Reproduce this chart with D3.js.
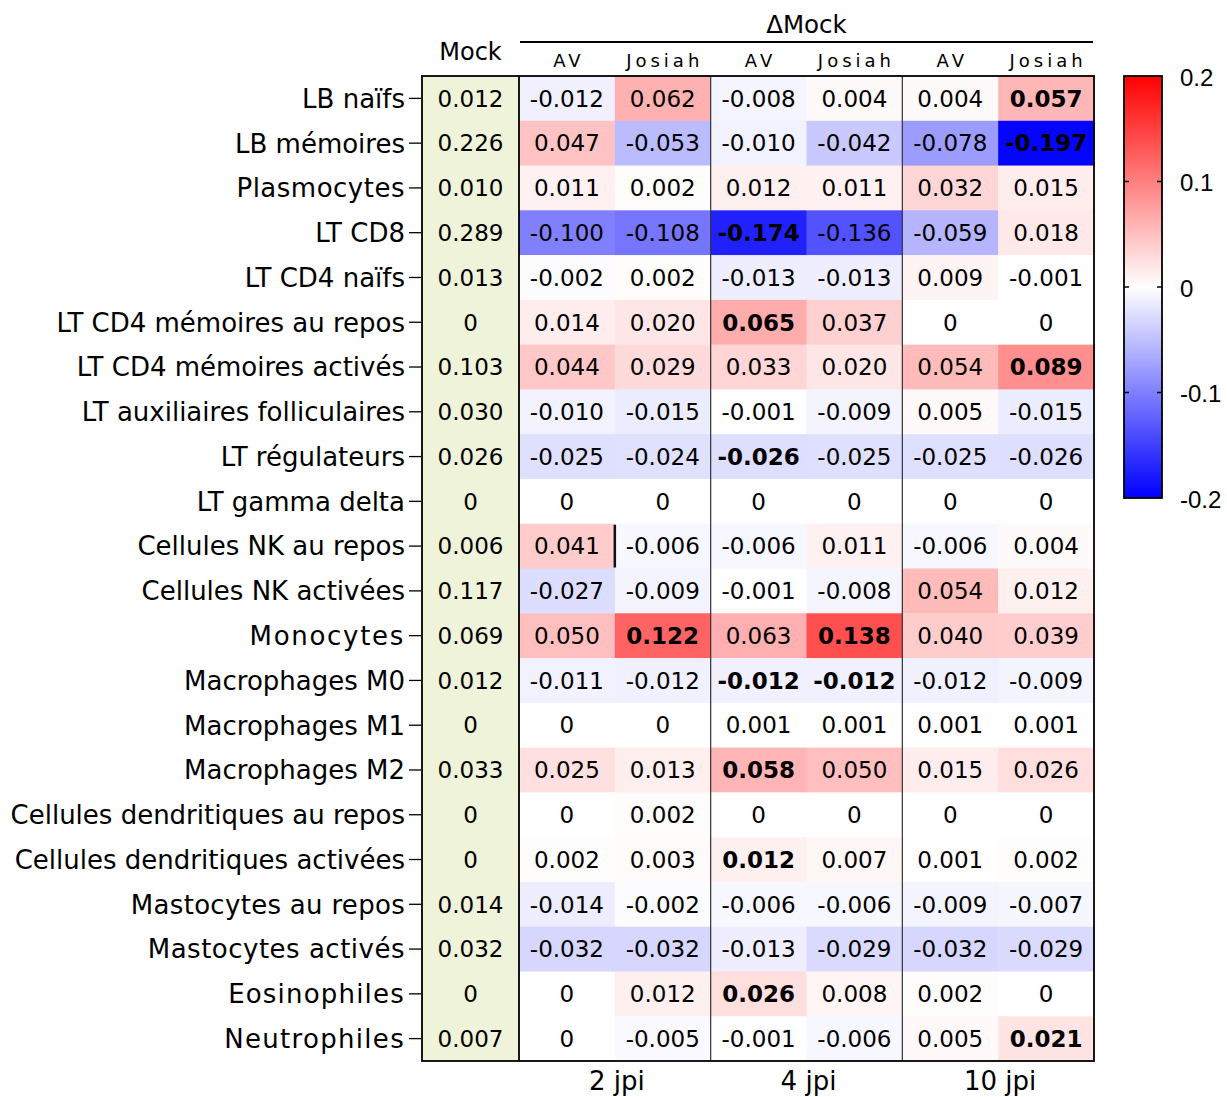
<!DOCTYPE html>
<html>
<head>
<meta charset="utf-8">
<script src="https://cdn.jsdelivr.net/npm/d3@7"></script>
<style>
  html, body { margin: 0; padding: 0; background: #ffffff; }
  svg { display: block; }
  text { font-family: "DejaVu Sans", Verdana, sans-serif; fill: #000; }
</style>
</head>
<body>
<svg id="chart" width="1227" height="1097"></svg>
<script>
// ---------------- DATA ----------------
const cellTypes = [
  "LB naïfs", "LB mémoires", "Plasmocytes", "LT CD8", "LT CD4 naïfs",
  "LT CD4 mémoires au repos", "LT CD4 mémoires activés", "LT auxiliaires folliculaires",
  "LT régulateurs", "LT gamma delta", "Cellules NK au repos", "Cellules NK activées",
  "Monocytes", "Macrophages M0", "Macrophages M1", "Macrophages M2",
  "Cellules dendritiques au repos", "Cellules dendritiques activées",
  "Mastocytes au repos", "Mastocytes activés", "Eosinophiles", "Neutrophiles"
];
const mockValues = [0.012, 0.226, 0.010, 0.289, 0.013, 0, 0.103, 0.030, 0.026, 0, 0.006,
  0.117, 0.069, 0.012, 0, 0.033, 0, 0, 0.014, 0.032, 0, 0.007];

const timepoints = ["2 jpi", "4 jpi", "10 jpi"];
const strains = ["AV", "Josiah"];
const deltaColumns = ["2 jpi AV", "2 jpi Josiah", "4 jpi AV", "4 jpi Josiah", "10 jpi AV", "10 jpi Josiah"];

// one array per column (rows in cellTypes order)
const av2 = [-0.012, 0.047, 0.011, -0.100, -0.002, 0.014, 0.044, -0.010, -0.025, 0, 0.041, -0.027,
  0.050, -0.011, 0, 0.025, 0, 0.002, -0.014, -0.032, 0, 0];
const josiah2 = [0.062, -0.053, 0.002, -0.108, 0.002, 0.020, 0.029, -0.015, -0.024, 0, -0.006, -0.009,
  0.122, -0.012, 0, 0.013, 0.002, 0.003, -0.002, -0.032, 0.012, -0.005];
const av4 = [-0.008, -0.010, 0.012, -0.174, -0.013, 0.065, 0.033, -0.001, -0.026, 0, -0.006, -0.001,
  0.063, -0.012, 0.001, 0.058, 0, 0.012, -0.006, -0.013, 0.026, -0.001];
const josiah4 = [0.004, -0.042, 0.011, -0.136, -0.013, 0.037, 0.020, -0.009, -0.025, 0, 0.011, -0.008,
  0.138, -0.012, 0.001, 0.050, 0, 0.007, -0.006, -0.029, 0.008, -0.006];
const av10 = [0.004, -0.078, 0.032, -0.059, 0.009, 0, 0.054, 0.005, -0.025, 0, -0.006, 0.054,
  0.040, -0.012, 0.001, 0.015, 0, 0.001, -0.009, -0.032, 0.002, 0.005];
const josiah10 = [0.057, -0.197, 0.015, 0.018, -0.001, 0, 0.089, -0.015, -0.026, 0, 0.004, 0.012,
  0.039, -0.009, 0.001, 0.026, 0, 0.002, -0.007, -0.029, 0, 0.021];
const deltaSeries = [av2, josiah2, av4, josiah4, av10, josiah10];

// highlighted (bold) cells: [row index, column index]
const boldCells = [[0,5],[1,5],[3,2],[5,2],[6,5],[8,2],[12,1],[12,3],[13,2],[13,3],[15,2],[17,2],[20,2],[21,5]];

const colorTicks = [0.2, 0.1, 0, -0.1, -0.2];
const colorTickLabels = ["0.2", "0.1", "0", "-0.1", "-0.2"];

// ---------------- LAYOUT ----------------
const svg = d3.select("#chart");
const gridLeft = 422, mockRight = 519, gridRight = 1094, gridTop = 76, gridBottom = 1061;

const y = d3.scaleBand().domain(cellTypes).range([gridTop, gridBottom]).padding(0);
const x = d3.scaleBand().domain(deltaColumns).range([mockRight, gridRight]).padding(0);
const color = d3.scaleLinear().domain([-0.2, 0, 0.2]).range(["#0000ff", "#ffffff", "#ff0000"]).clamp(true);

function fmt(v) {
  if (v === 0) return "0";
  return d3.format(".3f")(v).replace("−", "-");
}

// Mock column background
svg.append("rect")
  .attr("x", gridLeft).attr("y", gridTop)
  .attr("width", mockRight - gridLeft).attr("height", gridBottom - gridTop)
  .attr("fill", "#eef3d9");

svg.append("g").selectAll("text")
  .data(cellTypes)
  .join("text")
  .attr("x", (gridLeft + mockRight) / 2)
  .attr("y", d => y(d) + y.bandwidth() / 2)
  .attr("dy", "0.36em")
  .attr("text-anchor", "middle")
  .style("font-size", "23px")
  .text((d, i) => fmt(mockValues[i]));

// Delta cells
const cells = [];
deltaSeries.forEach((series, c) => {
  series.forEach((v, r) => cells.push({ r, c, v }));
});
const isBold = (r, c) => boldCells.some(b => b[0] === r && b[1] === c);

const cellG = svg.append("g");
cellG.selectAll("rect")
  .data(cells)
  .join("rect")
  .attr("x", d => x(deltaColumns[d.c]))
  .attr("y", d => y(cellTypes[d.r]))
  .attr("width", x.bandwidth() + 0.5)
  .attr("height", y.bandwidth() + 0.5)
  .attr("fill", d => color(d.v));

cellG.selectAll("text")
  .data(cells)
  .join("text")
  .attr("x", d => x(deltaColumns[d.c]) + x.bandwidth() / 2)
  .attr("y", d => y(cellTypes[d.r]) + y.bandwidth() / 2)
  .attr("dy", "0.36em")
  .attr("text-anchor", "middle")
  .style("font-size", "23px")
  .style("font-weight", d => isBold(d.r, d.c) ? "bold" : "normal")
  .text(d => fmt(d.v));

// Group separators
svg.append("g").selectAll("line")
  .data([2, 4])
  .join("line")
  .attr("x1", d => x(deltaColumns[d])).attr("x2", d => x(deltaColumns[d]))
  .attr("y1", gridTop).attr("y2", gridBottom)
  .attr("stroke", "#333").attr("stroke-width", 1.2);

// Mock column divider
svg.append("line")
  .attr("x1", mockRight).attr("x2", mockRight)
  .attr("y1", gridTop).attr("y2", gridBottom)
  .attr("stroke", "#000").attr("stroke-width", 1.8);

// short dark mark in "Cellules NK au repos" row
svg.append("line")
  .attr("x1", x(deltaColumns[1])).attr("x2", x(deltaColumns[1]))
  .attr("y1", y(cellTypes[10]) + 1).attr("y2", y(cellTypes[10]) + y.bandwidth() - 1)
  .attr("stroke", "#111").attr("stroke-width", 2.5);

// Outer border
svg.append("rect")
  .attr("x", gridLeft).attr("y", gridTop)
  .attr("width", gridRight - gridLeft).attr("height", gridBottom - gridTop)
  .attr("fill", "none").attr("stroke", "#000").attr("stroke-width", 1.8);

// Row axis (labels + ticks)
const labelSpacing = {
  "Plasmocytes": 0.5, "Monocytes": 1.7, "Mastocytes au repos": 0.3, "Mastocytes activés": 0.5,
  "Eosinophiles": 1.2, "Neutrophiles": 1.3
};
const yAxis = d3.axisLeft(y).tickSize(12).tickPadding(4);
const axG = svg.append("g").attr("transform", `translate(${gridLeft - 1},0)`).call(yAxis);
axG.select(".domain").remove();
axG.selectAll(".tick line").attr("stroke", "#000").attr("stroke-width", 1.3);
axG.selectAll(".tick text")
  .attr("fill", "#111")
  .style("font-family", "'DejaVu Sans', Verdana, sans-serif")
  .style("font-size", "26px")
  .style("letter-spacing", d => (labelSpacing[d] || 0) + "px")
  .attr("dy", "0.36em");

// Header
svg.append("text")
  .attr("x", (gridLeft + mockRight) / 2).attr("y", 60)
  .attr("text-anchor", "middle")
  .style("font-size", "24px")
  .text("Mock");

svg.append("text")
  .attr("x", (mockRight + gridRight) / 2).attr("y", 33)
  .attr("text-anchor", "middle")
  .style("font-size", "24.5px")
  .text("ΔMock");

svg.append("line")
  .attr("x1", mockRight + 1).attr("x2", gridRight - 1)
  .attr("y1", 42).attr("y2", 42)
  .attr("stroke", "#000").attr("stroke-width", 2);

const ls = 4;
svg.append("g").selectAll("text")
  .data(deltaColumns)
  .join("text")
  .attr("x", d => x(d) + x.bandwidth() / 2 + ls / 2)
  .attr("y", 67)
  .attr("text-anchor", "middle")
  .style("font-size", "18px")
  .style("letter-spacing", ls + "px")
  .text((d, i) => strains[i % 2]);

// Bottom timepoint labels
svg.append("g").selectAll("text")
  .data(timepoints)
  .join("text")
  .attr("x", (d, i) => (x(deltaColumns[i * 2]) + x(deltaColumns[i * 2 + 1]) + x.bandwidth()) / 2 + 2)
  .attr("y", 1090)
  .attr("text-anchor", "middle")
  .style("font-size", "26px")
  .text(d => d);

// Color bar
const cbX = 1124, cbW = 38, cbTop = 76, cbBottom = 498;
const cbScale = d3.scaleLinear().domain([0.2, -0.2]).range([cbTop, cbBottom]);
const defs = svg.append("defs");
const grad = defs.append("linearGradient").attr("id", "cbgrad")
  .attr("x1", 0).attr("y1", 0).attr("x2", 0).attr("y2", 1);
grad.selectAll("stop")
  .data(d3.range(0, 1.0001, 0.05))
  .join("stop")
  .attr("offset", d => d)
  .attr("stop-color", d => color(cbScale.invert(cbTop + d * (cbBottom - cbTop))));

svg.append("rect")
  .attr("x", cbX).attr("y", cbTop).attr("width", cbW).attr("height", cbBottom - cbTop)
  .attr("fill", "url(#cbgrad)")
  .attr("stroke", "#000").attr("stroke-width", 1.8);

const cbG = svg.append("g");
cbG.selectAll("line.l")
  .data(colorTicks.filter(t => Math.abs(t) < 0.2))
  .join("line").attr("class", "l")
  .attr("x1", cbX).attr("x2", cbX + 5)
  .attr("y1", d => cbScale(d)).attr("y2", d => cbScale(d))
  .attr("stroke", "#000").attr("stroke-width", 1.5);
cbG.selectAll("line.r")
  .data(colorTicks.filter(t => Math.abs(t) < 0.2))
  .join("line").attr("class", "r")
  .attr("x1", cbX + cbW - 5).attr("x2", cbX + cbW)
  .attr("y1", d => cbScale(d)).attr("y2", d => cbScale(d))
  .attr("stroke", "#000").attr("stroke-width", 1.5);
cbG.selectAll("text")
  .data(colorTicks)
  .join("text")
  .attr("x", cbX + cbW + 18)
  .attr("y", d => cbScale(d) + 1)
  .attr("dy", "0.36em")
  .style("font-family", "'Liberation Sans', Arial, sans-serif")
  .style("font-size", "24px")
  .text((d, i) => colorTickLabels[i]);
</script>
</body>
</html>
